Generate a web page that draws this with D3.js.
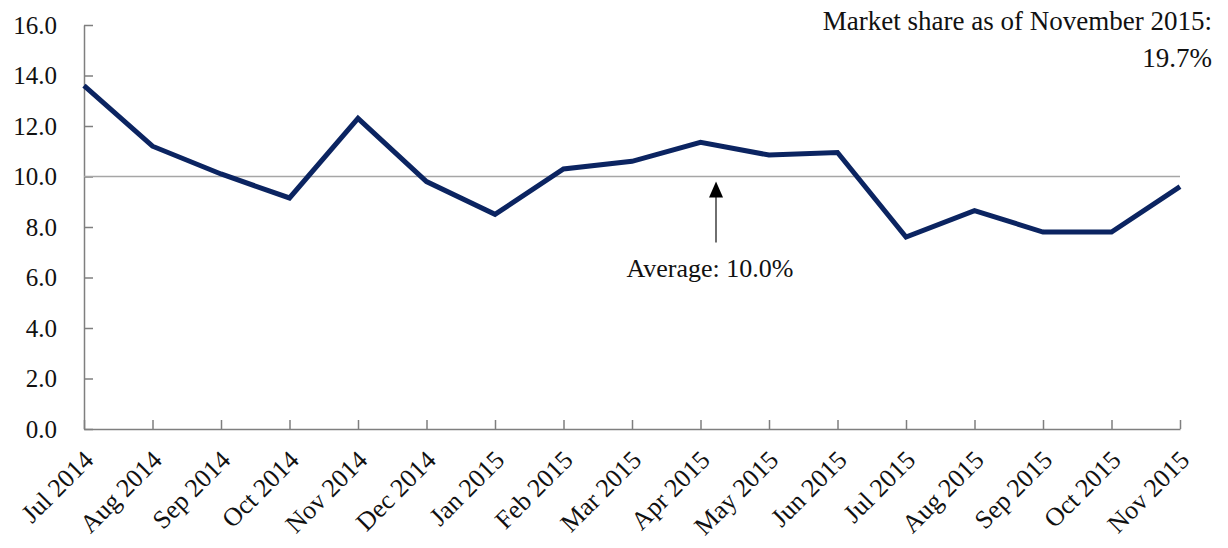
<!DOCTYPE html>
<html>
<head>
<meta charset="utf-8">
<script src="https://cdn.jsdelivr.net/npm/d3@7"></script>
<style>
  body { margin: 0; background: #fff; }
  text { font-family: "Liberation Serif", "DejaVu Serif", serif; fill: #111; }
  .axis path, .axis line { stroke: #7f7f7f; stroke-width: 1.5; }
</style>
</head>
<body>
<div id="chart"></div>
<script>
// Monthly market share (%)
const months = ["Jul 2014", "Aug 2014", "Sep 2014", "Oct 2014", "Nov 2014", "Dec 2014",
  "Jan 2015", "Feb 2015", "Mar 2015", "Apr 2015", "May 2015", "Jun 2015",
  "Jul 2015", "Aug 2015", "Sep 2015", "Oct 2015", "Nov 2015"];
const share = [13.6, 11.2, 10.1, 9.15, 12.3, 9.8, 8.5, 10.3, 10.6, 11.35, 10.85, 10.95,
  7.6, 8.65, 7.8, 7.8, 9.6];
const yTicks = [0, 2, 4, 6, 8, 10, 12, 14, 16];
const average = 10.0;
const noteLines = ["Market share as of November 2015:", "19.7%"];
const avgLabel = "Average: 10.0%";

const margin = {top: 25, right: 48, bottom: 119, left: 84},
      width = 1228 - margin.left - margin.right,
      height = 548 - margin.top - margin.bottom;

const svg = d3.select("#chart")
  .append("svg")
    .attr("width", 1228)
    .attr("height", 548)
  .append("g")
    .attr("transform", `translate(${margin.left},${margin.top})`);

const x = d3.scalePoint()
  .domain(months)
  .range([0, width]);

const y = d3.scaleLinear()
  .domain([0, 16])
  .range([height, 0]);

// Y axis
svg.append("g")
  .attr("class", "axis")
  .call(d3.axisLeft(y).tickValues(yTicks).tickFormat(d3.format(".1f"))
    .tickSizeInner(-9).tickSizeOuter(0).tickPadding(27))
  .selectAll("text")
    .style("font-size", "25px");

// X axis
svg.append("g")
  .attr("class", "axis")
  .attr("transform", `translate(0,${height})`)
  .call(d3.axisBottom(x).tickSizeInner(-9).tickSizeOuter(0))
  .selectAll("text")
    .attr("y", 0)
    .attr("dy", "0.35em")
    .attr("transform", "translate(4,26)rotate(-45)")
    .style("text-anchor", "end")
    .style("font-size", "26px");

// Average line
svg.append("line")
  .attr("x1", 0)
  .attr("x2", width)
  .attr("y1", y(average))
  .attr("y2", y(average))
  .attr("stroke", "#a6a6a6")
  .attr("stroke-width", 1.5);

// Series line
svg.append("path")
  .datum(share)
  .attr("fill", "none")
  .attr("stroke", "#0b2461")
  .attr("stroke-width", 5)
  .attr("stroke-linejoin", "miter")
  .attr("d", d3.line()
    .x((d, i) => x(months[i]))
    .y(d => y(d)));

// Average arrow + label
const ax = 632;
svg.append("line")
  .attr("x1", ax).attr("x2", ax)
  .attr("y1", y(average) + 66).attr("y2", y(average) + 18)
  .attr("stroke", "#222").attr("stroke-width", 1.3);
svg.append("path")
  .attr("d", `M${ax},${y(average) + 5}L${ax - 7},${y(average) + 21}L${ax + 7},${y(average) + 21}Z`)
  .attr("fill", "#000");
svg.append("text")
  .attr("x", ax - 6)
  .attr("y", y(average) + 100)
  .attr("text-anchor", "middle")
  .style("font-size", "26px")
  .text(avgLabel);

// Top-right note
svg.append("g")
  .selectAll("text")
  .data(noteLines)
  .join("text")
    .attr("x", width + 32)
    .attr("y", (d, i) => 5 + i * 37)
    .attr("text-anchor", "end")
    .style("font-size", "27px")
    .text(d => d);
</script>
</body>
</html>
